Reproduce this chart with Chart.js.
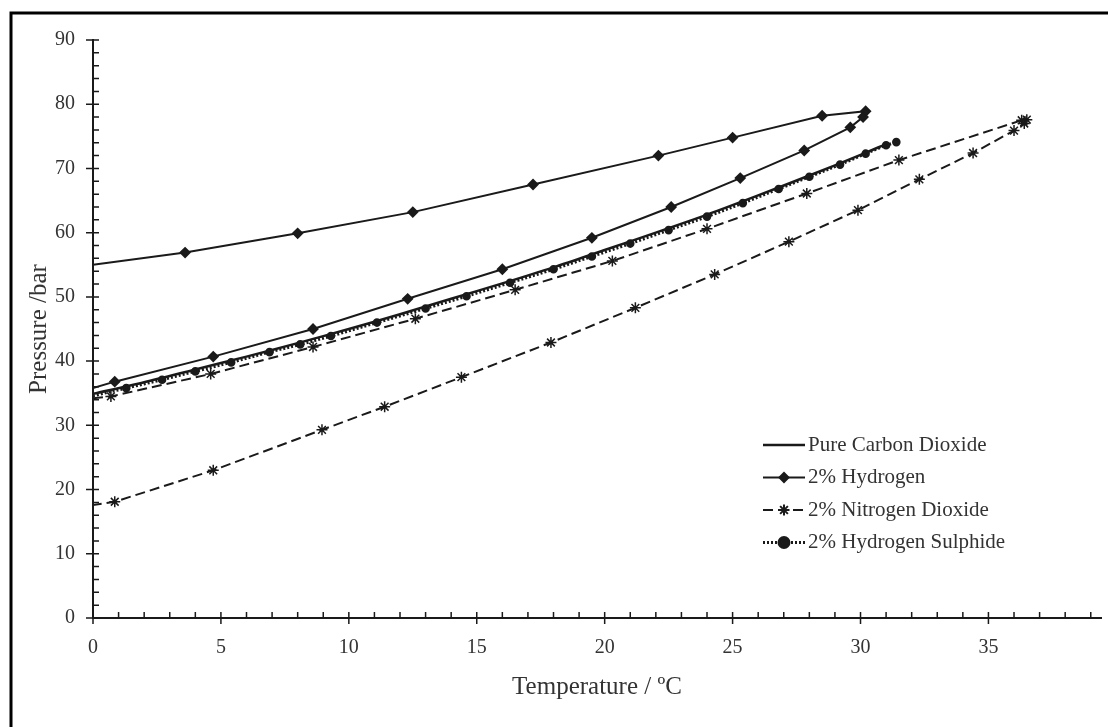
<!DOCTYPE html>
<html>
<head>
<meta charset="utf-8">
<script src="https://cdn.jsdelivr.net/npm/chart.js@4.4.1/dist/chart.umd.min.js"></script>
<style>
    html, body { margin: 0; padding: 0; background: #fff; }
    #wrap { position: relative; width: 1108px; height: 727px; }
</style>
</head>
<body>
<div id="wrap"><canvas id="chart" width="1108" height="727"></canvas></div>
<script>
// Pure CO2 vapour pressure curve
const co2Temp = [0, 2, 4, 6, 8, 10, 12, 14, 16, 18, 20, 22, 24, 26, 28, 30, 31];
const co2Pres = [34.9, 36.7, 38.7, 40.7, 42.8, 45.0, 47.3, 49.7, 52.1, 54.6, 57.3, 60.0, 62.8, 65.8, 68.9, 72.1, 73.8];

// 2% H2 envelope (bubble line up, dew line back down)
const h2Temp = [0, 3.6, 8.0, 12.5, 17.2, 22.1, 25.0, 28.5, 30.2, 30.1, 29.6, 27.8, 25.3, 22.6, 19.5, 16.0, 12.3, 8.6, 4.7, 0.85, 0];
const h2Pres = [55.0, 56.9, 59.9, 63.2, 67.5, 72.0, 74.8, 78.2, 78.9, 78.0, 76.4, 72.8, 68.5, 64.0, 59.2, 54.3, 49.7, 45.0, 40.7, 36.8, 35.8];

// 2% NO2 envelope
const no2Temp = [0, 0.7, 4.6, 8.6, 12.6, 16.5, 20.3, 24.0, 27.9, 31.5, 36.3, 36.5, 36.4, 36.0, 34.4, 32.3, 29.9, 27.2, 24.3, 21.2, 17.9, 14.4, 11.4, 8.95, 4.7, 0.85, 0];
const no2Pres = [34.2, 34.5, 38.0, 42.2, 46.6, 51.1, 55.6, 60.6, 66.1, 71.3, 77.5, 77.6, 77.0, 75.9, 72.4, 68.3, 63.5, 58.6, 53.5, 48.3, 42.9, 37.5, 32.9, 29.3, 23.0, 18.1, 17.6];

// 2% H2S
const h2sTemp = [0, 1.3, 2.7, 4.0, 5.4, 6.9, 8.1, 9.3, 11.1, 13.0, 14.6, 16.3, 18.0, 19.5, 21.0, 22.5, 24.0, 25.4, 26.8, 28.0, 29.2, 30.2, 31.0, 31.4];
const h2sPres = [34.6, 35.8, 37.1, 38.4, 39.8, 41.4, 42.6, 43.9, 46.0, 48.2, 50.1, 52.2, 54.3, 56.3, 58.3, 60.4, 62.5, 64.6, 66.8, 68.7, 70.6, 72.3, 73.6, 74.1];

const seriesNames = ['Pure Carbon Dioxide', '2% Hydrogen', '2% Nitrogen Dioxide', '2% Hydrogen Sulphide'];
const xTicks = [0, 5, 10, 15, 20, 25, 30, 35];

const toPoints = (xs, ys) => xs.map((t, i) => ({ x: t, y: ys[i] }));
const ink = '#1a1a1a';
const textColor = '#333';
const serif = "'Liberation Serif', 'DejaVu Serif', serif";
const hideAtZero = (r) => (ctx) => (ctx.raw && ctx.raw.x === 0 ? 0 : r);

const axisMarks = {
    id: 'axisMarks',
    afterDraw(chart) {
        const { ctx, scales: { x, y }, chartArea } = chart;
        ctx.save();
        ctx.strokeStyle = ink;
        ctx.lineWidth = 1.5;
        ctx.beginPath();
        for (let v = 0; v <= x.max; v += 1) {
            const px = x.getPixelForValue(v);
            const major = v % 5 === 0;
            ctx.moveTo(px, chartArea.bottom - 6);
            ctx.lineTo(px, chartArea.bottom + (major ? 6 : 0));
        }
        for (let v = 0; v <= y.max; v += 2) {
            const py = y.getPixelForValue(v);
            const major = v % 10 === 0;
            ctx.moveTo(chartArea.left - (major ? 7 : 0), py);
            ctx.lineTo(chartArea.left + 6, py);
        }
        ctx.stroke();

        // outer frame (left + top edges)
        ctx.lineWidth = 3;
        ctx.strokeStyle = '#000';
        ctx.beginPath();
        ctx.moveTo(11, chart.height);
        ctx.lineTo(11, 13);
        ctx.lineTo(chart.width, 13);
        ctx.stroke();

        // legend
        const lx = 763, lw = 42, ly0 = 445, step = 32.5;
        ctx.font = '21px ' + serif;
        ctx.textBaseline = 'middle';
        ctx.textAlign = 'left';
        chart.data.datasets.forEach((ds, i) => {
            const yy = ly0 + i * step;
            ctx.strokeStyle = ink;
            ctx.lineWidth = ds.borderWidth;
            ctx.setLineDash(ds.borderDash || []);
            ctx.beginPath();
            ctx.moveTo(lx, yy);
            ctx.lineTo(lx + lw, yy);
            ctx.stroke();
            ctx.setLineDash([]);
            if (ds.markerSize) {
                ctx.fillStyle = ink;
                Chart.helpers.drawPoint(ctx, {
                    pointStyle: ds.pointStyle,
                    radius: ds.markerSize,
                    rotation: 0,
                    borderWidth: 1.5
                }, lx + lw / 2, yy);
            }
            ctx.fillStyle = textColor;
            ctx.fillText(ds.label, lx + lw + 3, yy);
        });
        ctx.restore();
    }
};

const chart = new Chart(document.getElementById('chart'), {
    type: 'scatter',
    data: {
        datasets: [
            {
                label: seriesNames[0],
                data: toPoints(co2Temp, co2Pres),
                showLine: true,
                borderColor: ink,
                borderWidth: 2.5,
                pointRadius: 0,
                markerSize: 0,
                tension: 0.3
            },
            {
                label: seriesNames[1],
                data: toPoints(h2Temp, h2Pres),
                showLine: true,
                borderColor: ink,
                backgroundColor: ink,
                borderWidth: 2,
                pointStyle: 'rectRot',
                pointRadius: hideAtZero(4.5),
                markerSize: 4.5,
                tension: 0
            },
            {
                label: seriesNames[2],
                data: toPoints(no2Temp, no2Pres),
                showLine: true,
                borderColor: ink,
                backgroundColor: ink,
                borderWidth: 2,
                borderDash: [10, 5],
                pointStyle: 'star',
                pointRadius: hideAtZero(5.5),
                pointBorderWidth: 1.5,
                markerSize: 5.5,
                tension: 0
            },
            {
                label: seriesNames[3],
                data: toPoints(h2sTemp, h2sPres),
                showLine: true,
                borderColor: ink,
                backgroundColor: ink,
                borderWidth: 3,
                borderDash: [2, 2],
                pointStyle: 'circle',
                pointRadius: hideAtZero(2.8),
                markerSize: 5,
                tension: 0.3
            }
        ]
    },
    options: {
        responsive: false,
        animation: false,
        layout: { padding: { top: 40, right: 0, bottom: 0, left: 0 } },
        plugins: {
            legend: { display: false },
            tooltip: { enabled: false }
        },
        scales: {
            x: {
                type: 'linear',
                min: 0,
                max: 39.4,
                afterBuildTicks: (scale) => {
                    scale.ticks = xTicks.map(v => ({ value: v }));
                },
                afterFit: (scale) => { scale.height = 109; },
                grid: { display: false, drawTicks: false },
                border: { display: true, color: ink, width: 2 },
                ticks: {
                    padding: 18,
                    color: textColor,
                    font: { family: serif, size: 20 },
                    maxRotation: 0
                },
                title: {
                    display: true,
                    text: 'Temperature / \u00BAC',
                    color: textColor,
                    font: { family: serif, size: 25 },
                    padding: { top: 0, bottom: 25 }
                }
            },
            y: {
                min: 0,
                max: 90,
                afterFit: (scale) => { scale.width = 93; },
                grid: { display: false, drawTicks: false },
                border: { display: true, color: ink, width: 2 },
                ticks: {
                    stepSize: 10,
                    padding: 18,
                    color: textColor,
                    font: { family: serif, size: 20 }
                },
                title: {
                    display: true,
                    text: 'Pressure /bar',
                    color: textColor,
                    font: { family: serif, size: 25 },
                    padding: { top: 24, bottom: 0 }
                }
            }
        }
    },
    plugins: [axisMarks]
});
</script>
</body>
</html>
